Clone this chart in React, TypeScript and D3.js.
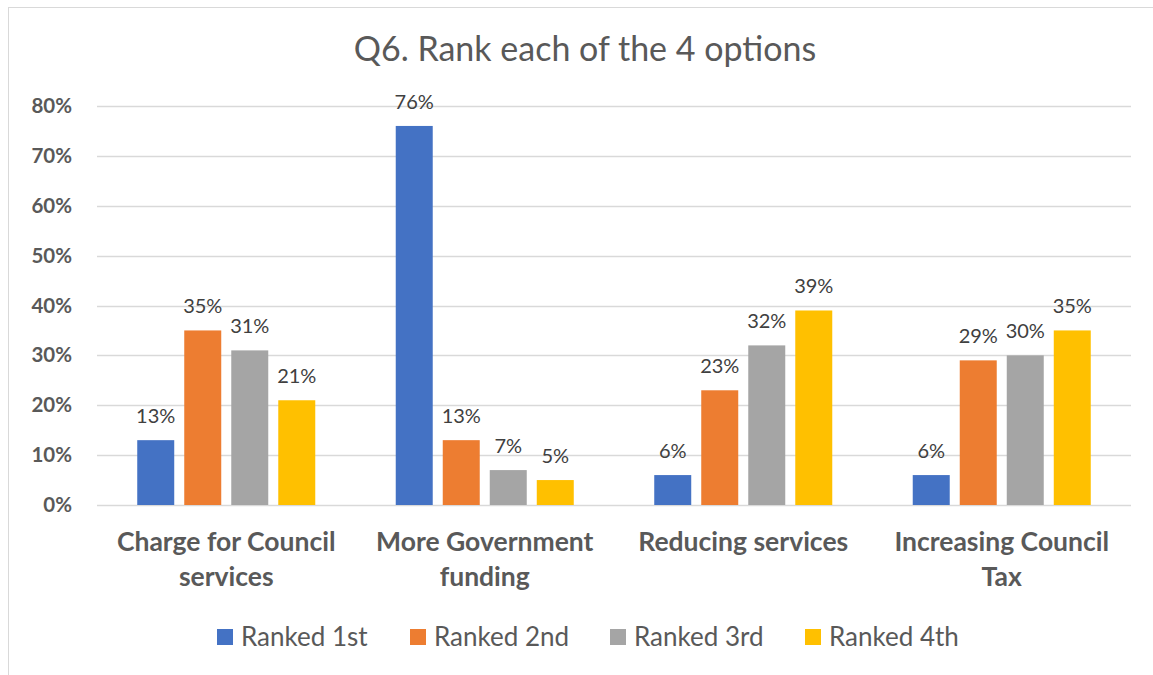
import React, { useRef, useEffect } from 'react';
import * as d3 from 'd3';

const categories = [
  ['Charge for Council', 'services'],
  ['More Government', 'funding'],
  ['Reducing services'],
  ['Increasing Council', 'Tax'],
];
const seriesNames = ['Ranked 1st', 'Ranked 2nd', 'Ranked 3rd', 'Ranked 4th'];
const colors = ['#4472c4', '#ed7d31', '#a5a5a5', '#ffc000'];
const ranked1 = [13, 76, 6, 6];
const ranked2 = [35, 13, 23, 29];
const ranked3 = [31, 7, 32, 30];
const ranked4 = [21, 5, 39, 35];
const yTicks = [0, 10, 20, 30, 40, 50, 60, 70, 80];

const FONT = 'Lato, "Open Sans", sans-serif';

const App = () => {
  const ref = useRef<SVGSVGElement>(null);

  useEffect(() => {
    const width = 1153;
    const height = 675;
    const svg = d3.select(ref.current);
    svg.selectAll('*').remove();

    const series = [ranked1, ranked2, ranked3, ranked4];
    const catKeys = categories.map(c => c.join(' '));

    // chart border
    svg.append('rect')
      .attr('x', 8.5).attr('y', 7.5)
      .attr('width', width + 10).attr('height', height + 10)
      .attr('fill', 'white').attr('stroke', '#d9d9d9');

    const x0 = d3.scaleBand().domain(catKeys).range([97, 1131]);
    const x1 = d3.scaleBand<number>()
      .domain(d3.range(series.length))
      .range([0, x0.bandwidth()])
      .paddingInner(0.213)
      .paddingOuter(0.856);
    const y = d3.scaleLinear().domain([0, 80]).range([505, 106]);

    // gridlines
    svg.append('g')
      .selectAll('line')
      .data(yTicks)
      .enter().append('line')
      .attr('x1', 97).attr('x2', 1131)
      .attr('y1', d => Math.round(y(d)) + 0.5)
      .attr('y2', d => Math.round(y(d)) + 0.5)
      .attr('stroke', '#d9d9d9')
      .attr('stroke-width', 1.3);

    // y labels
    svg.append('g')
      .selectAll('text')
      .data(yTicks)
      .enter().append('text')
      .attr('x', 72)
      .attr('y', d => y(d) + 7)
      .attr('text-anchor', 'end')
      .attr('font-family', FONT)
      .attr('font-weight', 'bold')
      .attr('font-size', 20.5)
      .attr('fill', '#595959')
      .text(d => d + '%');

    // bars
    const groups = svg.append('g')
      .selectAll('g')
      .data(catKeys)
      .enter().append('g')
      .attr('transform', d => `translate(${x0(d)},0)`);

    groups.each(function (key, ci) {
      const g = d3.select(this);
      const vals = series.map(s => s[ci]);
      g.selectAll('rect')
        .data(vals)
        .enter().append('rect')
        .attr('x', (d, i) => x1(i)!)
        .attr('width', x1.bandwidth())
        .attr('y', d => y(d))
        .attr('height', d => y(0) - y(d))
        .attr('fill', (d, i) => colors[i]);
      g.selectAll('text.lbl')
        .data(vals)
        .enter().append('text')
        .attr('class', 'lbl')
        .attr('x', (d, i) => x1(i)! + x1.bandwidth() / 2)
        .attr('y', d => y(d) - 17)
        .attr('text-anchor', 'middle')
        .attr('font-family', FONT)
        .attr('font-size', 20)
        .attr('fill', '#404040')
        .text(d => d + '%');
    });

    // category labels
    svg.append('g')
      .selectAll('text')
      .data(categories)
      .enter().append('text')
      .attr('text-anchor', 'middle')
      .attr('font-family', FONT)
      .attr('font-weight', 'bold')
      .attr('font-size', 26.5)
      .attr('fill', '#595959')
      .each(function (lines, i) {
        const t = d3.select(this);
        const cx = x0(catKeys[i])! + x0.bandwidth() / 2;
        lines.forEach((ln, j) => {
          t.append('tspan').attr('x', cx).attr('y', 551 + j * 35).text(ln);
        });
      });

    // title
    svg.append('text')
      .attr('x', 585).attr('y', 61)
      .attr('text-anchor', 'middle')
      .attr('font-family', FONT)
      .attr('font-size', 34)
      .attr('fill', '#595959')
      .text('Q6. Rank each of the 4 options');

    // legend
    const legendX = [217, 410, 610, 805];
    const legend = svg.append('g')
      .selectAll('g')
      .data(seriesNames)
      .enter().append('g')
      .attr('transform', (d, i) => `translate(${legendX[i]},629)`);
    legend.append('rect')
      .attr('width', 16).attr('height', 16)
      .attr('fill', (d, i) => colors[i]);
    legend.append('text')
      .attr('x', 24).attr('y', 17)
      .attr('font-family', FONT)
      .attr('font-size', 26)
      .attr('fill', '#595959')
      .text(d => d);
  }, []);

  return (
    <svg ref={ref} width={1153} height={675}
      style={{ position: 'absolute', left: 0, top: 0, display: 'block' }} />
  );
};

export default App;
